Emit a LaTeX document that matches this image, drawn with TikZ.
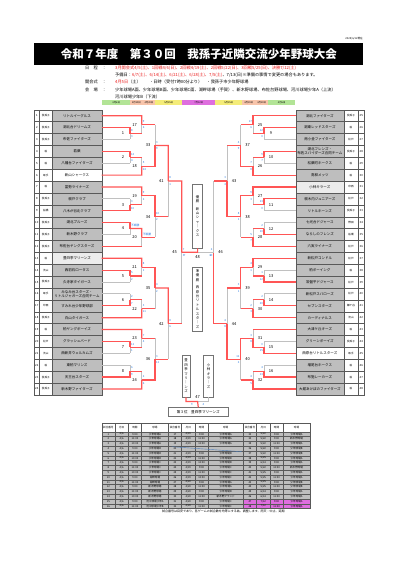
\documentclass[tikz,border=0pt]{standalone}
\usepackage{fontspec}
\setmainfont{Noto Sans CJK JP}
\usetikzlibrary{positioning,calc}
\definecolor{winred}{RGB}{255,85,85}
\definecolor{outgray}{RGB}{192,192,192}
\definecolor{cellgray}{RGB}{190,190,190}
\definecolor{palecell}{RGB}{236,236,236}
\definecolor{scoreblue}{RGB}{45,125,225}
\definecolor{noticered}{RGB}{235,25,25}
\definecolor{daygreen}{RGB}{178,228,150}
\definecolor{daypeach}{RGB}{248,196,170}
\definecolor{dayyellow}{RGB}{244,236,120}
\definecolor{daypink}{RGB}{222,110,222}

\newcommand\fsz[2]{\fontsize{#1}{#2}\selectfont}
\newcommand\pick[3]{\if w#1\draw[wline] (#2) -- (#3);\else\draw[bline] (#2) -- (#3);\fi}
% one game: number, x of its upright, upper and lower entry, winner (u/d),
% upper and lower score, side (1 left, -1 right), round (r first, n later)
\newcommand\bout[9]{%
  \coordinate (v#1) at (#2,0);
  \coordinate (w#1) at ($(#3 -| v#1)!.5!(#4 -| v#1)$);
  \if r#9\def\fx{g}\else\def\fx{w}\fi
  \draw[bline] (#3 -| v#1) -- (#4 -| v#1);
  \ifx u#5
    \pick{\fx}{#4}{#4 -| v#1}
    \draw[wline] (#3) -- (#3 -| v#1) -- (w#1);
  \else
    \pick{\fx}{#3}{#3 -| v#1}
    \draw[wline] (#4) -- (#4 -| v#1) -- (w#1);
  \fi
  \ifnum#8>0 \def\sa{west}\else\def\sa{east}\fi
  \node[gno] (g#1) at ([xshift=-7pt*#8]w#1) {#1};
  \node[sc,anchor=\sa] (su#1) at ([xshift=.6pt*#8,yshift=3.2pt]w#1) {#6};
  \node[sc,anchor=\sa] (sl#1) at ([xshift=.6pt*#8,yshift=-3.2pt]w#1) {#7};
}
% one block of the timetable: left edge, width of the ground column, first pink row, rows
\newcommand\sched[4]{%
  \foreach \hd/\cx/\cw in {試合番号/0/13.3,月日/13.3/13.3,時間/26.6/13.3,球場/39.9/#2}
    \node[tcell,fill=white,minimum width=\cw pt,minimum height=8.4pt,anchor=north west] at (#1+\cx,423.3) {\hd};
  \foreach \no/\dd/\tm/\pl [count=\rw] in {#4}{
    \pgfmathsetmacro\ry{431.7+4.8*(\rw-1)}
    \ifnum\rw<#3 \def\rc{cellgray}\else\def\rc{daypink}\fi
    \node[tcell,fill=\rc,minimum width=13.3pt,anchor=north west] at (#1,\ry) {\no};
    \node[tcell,fill=\rc,minimum width=13.3pt,anchor=north west] at (#1+13.3,\ry) {\dd};
    \node[tcell,fill=\rc,minimum width=13.3pt,anchor=north west] at (#1+26.6,\ry) {\tm};
    \node[tcell,fill=\rc,minimum width=#2pt,anchor=north west] at (#1+39.9,\ry) {\pl};
  }
}

\tikzset{
  cell/.style={draw=black!65,line width=.35pt,inner sep=0pt,outer sep=0pt,minimum height=11.88pt},
  teamcell/.style={cell,fill=cellgray,font=\fsz{3.5}{4.3},align=center},
  areacell/.style={cell,fill=white,font=\fsz{2.6}{3}},
  numcell/.style={cell,fill=white,font=\fsz{2.8}{3}},
  bline/.style={outgray,line width=.9pt},
  wline/.style={winred,line width=1.2pt},
  gno/.style={font=\fsz{4}{4},inner sep=0pt},
  sc/.style={font=\fsz{2.8}{3},text=scoreblue,inner sep=.3pt},
  vbox/.style={draw=black!55,line width=.5pt,fill=white,inner sep=0pt,font=\fsz{3.4}{4.4},align=center},
  info/.style={anchor=west,inner sep=0pt,font=\fsz{4.2}{4.4}},
  tcell/.style={draw=black!65,line width=.3pt,inner sep=0pt,outer sep=0pt,minimum height=4.8pt,font=\fsz{2.6}{3}},
}

\begin{document}
\begin{tikzpicture}[x=1pt,y=-1pt]
\fill[white] (0,0) rectangle (401,568);
\useasboundingbox (0,0) rectangle (401,568);

% heading
\node[anchor=east,inner sep=0pt,font=\fsz{2.6}{3}] (stamp) at (363,38.5) {2025/6/12現在};
\node[fill=black,text=white,minimum width=329pt,minimum height=22.3pt,inner sep=0pt,
  font=\fsz{11.5}{12}\bfseries] (title) at (198.8,53.8) {令和７年度　第３０回　我孫子近隣交流少年野球大会};
\node[info] (l1) at (85,67.7) {日　程　：};
\node[info,text=noticered] (d1) at (115,67.7) {3月開会式4/5(土)、1回戦4/6(日)、2回戦4/19(土)、2回戦5/22(日)、3回戦5/25(日)、決勝7/12(土)};
\node[info] (d2) at (115,75) {予備日：\textcolor{noticered}{6/7(土)、6/14(土)、6/21(土)、6/28(土)、7/5(土)}、7/13(日)※準備の事情で変更の場合もあります。};
\node[info] (l3) at (85,82.3) {開会式　：};
\node[info] (d3) at (115,82.3) {\textcolor{noticered}{4月5日}（土）　　・日時（受付7時00分より）　・我孫子市少年野球場};
\node[info] (l4) at (85,89.5) {会　場　：};
\node[info] (d4) at (115,89.5) {少年球場A面、少年球場B面、少年球場C面、湖畔球場（手賀）、新木野球場、布佐台野球場、河川球場少年A（上流）};
\node[info] (d5) at (115,96.5) {河川球場少年B（下流）};
\foreach \x/\w/\c/\t in {102/28/daygreen/4月6日,130/12.5/daypeach/4月19日,142.5/12.5/daypeach/4月20日,
    155/27/dayyellow/5月25日,182/33/daypink/7月12日,215/27/dayyellow/5月25日,
    242/13/daypeach/4月19日,255/13/daypeach/4月20日,268/27/daygreen/4月6日}
  \node[fill=\c,minimum width=\w pt,minimum height=4.6pt,anchor=north west,inner sep=0pt,font=\fsz{2.4}{2.5}] at (\x,100) {\t};

% left teams
\foreach \nm/\rg [count=\i] in {リトルイーグルス/我孫子,湖北台ドリームズ/我孫子,布佐ファイターズ/我孫子,若葉/柏,
    八幡台ファイターズ/柏,新山シャークス/取手,富勢ライナーズ/柏,根戸クラブ/我孫子,八木が谷北クラブ/船橋,
    湖北ブルーズ/我孫子,新木野クラブ/我孫子,布佐台ヤングスターズ/我孫子,豊四季マリーンズ/柏,
    西初石ロータス/流山,久寺家タイガース/我孫子,{みなみ台スターズ・\\リトルジャガーズ合同チーム}/取手,
    すみれ台少年野球部/印西,白山タイガース/我孫子,柏ヤングボーイズ/柏,グラッシュバード/松戸,
    西新井ウェルカムズ/流山,東柏マリンズ/柏,天王台スターズ/我孫子,新木野ファイターズ/我孫子}{
  \pgfmathsetmacro\yy{115.7+(\i-1)*11.88}
  \def\cf{cellgray}
  \ifnum\i=6 \def\cf{white}\fi
  \ifnum\i=13 \def\cf{palecell}\fi
  \node[numcell,minimum width=5pt] (n\i) at (36.8,\yy) {\i};
  \node[areacell,minimum width=13pt] (a\i) at (45.8,\yy) {\rg};
  \node[teamcell,fill=\cf,minimum width=49.4pt] (t\i) at (77,\yy) {\nm};
}
% right teams
\foreach \nm/\rg [count=\i from 25] in {湖北ファイターズ/我孫子,湖東レッドスターズ/柏,南小金ファイターズ/松戸,
    {湖北フレンズ・\\布佐スパイダーズ合同チーム}/我孫子,松葉町ホークス/柏,高柳メッツ/柏,小林キラーズ/印西,
    根木内ジュニアーズ/松戸,リトルホーンズ/我孫子,七光台ドジャース/野田,ならしのフレンズ/船橋,六実ライナーズ/松戸,
    新松戸コンドル/松戸,柏ボーイング/柏,常盤平ドジャース/松戸,新松戸スパローズ/松戸,セブンスターズ/鎌ケ谷,
    カーディナルス/流山,大津ケ丘キーズ/柏,グリーンボーイズ/我孫子,西原台リトルスターズ/取手,
    増尾台ホークス/柏,布施レーカーズ/柏,大堀あけぼのファイターズ/柏}{
  \pgfmathsetmacro\yy{115.7+(\i-25)*11.88}
  \def\cf{cellgray}
  \ifnum\i=45 \def\cf{white}\fi
  \ifnum\i=31 \def\cf{palecell}\fi
  \node[teamcell,fill=\cf,minimum width=48.3pt] (t\i) at (319.85,\yy) {\nm};
  \node[areacell,minimum width=14pt] (a\i) at (351,\yy) {\rg};
  \node[numcell,minimum width=6.5pt] (n\i) at (361.25,\yy) {\i};
}

% left half of the draw
\bout{1}{130}{t2.east}{t3.east}{u}{8}{3}{1}{r}
\bout{2}{130}{t4.east}{t5.east}{u}{12}{4}{1}{r}
\bout{3}{130}{t8.east}{t9.east}{d}{3}{10}{1}{r}
\bout{4}{130}{t10.east}{t11.east}{u}{不戦勝}{}{1}{r}
\bout{5}{130}{t14.east}{t15.east}{u}{5}{2}{1}{r}
\bout{6}{130}{t16.east}{t17.east}{d}{2}{7}{1}{r}
\bout{7}{130}{t20.east}{t21.east}{u}{11}{1}{1}{r}
\bout{8}{130}{t22.east}{t23.east}{d}{6}{9}{1}{r}
\bout{17}{141.7}{t1.east}{w1}{u}{9}{6}{1}{n}
\bout{18}{141.7}{w2}{t6.east}{d}{5}{14}{1}{n}
\bout{19}{141.7}{t7.east}{w3}{u}{9}{2}{1}{n}
\bout{20}{141.7}{w4}{t12.east}{u}{不戦勝}{}{1}{n}
\bout{21}{141.7}{t13.east}{w5}{u}{8}{1}{1}{n}
\bout{22}{141.7}{w6}{t18.east}{d}{3}{11}{1}{n}
\bout{23}{141.7}{t19.east}{w7}{u}{7}{4}{1}{n}
\bout{24}{141.7}{w8}{t24.east}{d}{2}{6}{1}{n}
\bout{33}{155}{w17}{w18}{d}{3}{9}{1}{n}
\bout{34}{155}{w19}{w20}{u}{10}{2}{1}{n}
\bout{35}{155}{w21}{w22}{u}{4}{2}{1}{n}
\bout{36}{155}{w23}{w24}{d}{3}{11}{1}{n}
\bout{41}{168.3}{w33}{w34}{u}{8}{1}{1}{n}
\bout{42}{168.3}{w35}{w36}{u}{8}{6}{1}{n}
\bout{45}{181.7}{w41}{w42}{u}{7}{3}{1}{n}
% right half of the draw
\bout{9}{264}{t26.west}{t27.west}{u}{12}{0}{-1}{r}
\bout{10}{264}{t28.west}{t29.west}{u}{9}{7}{-1}{r}
\bout{11}{264}{t32.west}{t33.west}{u}{13}{0}{-1}{r}
\bout{12}{264}{t34.west}{t35.west}{d}{2}{10}{-1}{r}
\bout{13}{264}{t38.west}{t39.west}{d}{1}{12}{-1}{r}
\bout{14}{264}{t40.west}{t41.west}{d}{2}{20}{-1}{r}
\bout{15}{264}{t44.west}{t45.west}{d}{0}{15}{-1}{r}
\bout{16}{264}{t46.west}{t47.west}{d}{4}{13}{-1}{r}
\bout{25}{253}{t25.west}{w9}{u}{17}{6}{-1}{n}
\bout{26}{253}{w10}{t30.west}{d}{7}{8}{-1}{n}
\bout{27}{253}{t31.west}{w11}{u}{9}{3}{-1}{n}
\bout{28}{253}{w12}{t36.west}{d}{5}{7}{-1}{n}
\bout{29}{253}{t37.west}{w13}{u}{4}{1}{-1}{n}
\bout{30}{253}{w14}{t42.west}{d}{2}{3}{-1}{n}
\bout{31}{253}{t43.west}{w15}{d}{3}{8}{-1}{n}
\bout{32}{253}{w16}{t48.west}{d}{4}{5}{-1}{n}
\bout{37}{240.5}{w25}{w26}{d}{4}{9}{-1}{n}
\bout{38}{240.5}{w27}{w28}{u}{8}{1}{-1}{n}
\bout{39}{240.5}{w29}{w30}{u}{3}{1}{-1}{n}
\bout{40}{240.5}{w31}{w32}{u}{11}{2}{-1}{n}
\bout{43}{227}{w37}{w38}{d}{3}{4}{-1}{n}
\bout{44}{227}{w39}{w40}{d}{4}{8}{-1}{n}
\bout{46}{213.5}{w43}{w44}{d}{2}{10}{-1}{n}

% final and the game for third place
\node[vbox,minimum width=10pt,minimum height=64pt] (champ) at (197.6,216) {優\\勝\\[3pt]新\\山\\シ\\ャ\\｜\\ク\\ス};
\node[vbox,minimum width=10pt,minimum height=64pt] (second) at (197.6,299) {準\\優\\勝\\[3pt]西\\原\\台\\リ\\ト\\ル\\ス\\タ\\｜\\ズ};
\coordinate (fin) at ($(w45)!.5!(w46)$);
\draw[bline] (w45) -- (w46);
\draw[wline] (w45) -- (fin) -- (champ.south);
\node[gno] (g48) at ([yshift=-5pt]fin) {48};
\node[sc] (sf1) at ([xshift=3pt,yshift=-2.8pt]w45) {7};
\node[sc] (sf2) at ([xshift=-3pt,yshift=-2.8pt]w46) {1};

\node[vbox,minimum width=8.3pt,minimum height=42pt] (third1) at (186,376) {豊\\四\\季\\マ\\リ\\｜\\ン\\ズ};
\node[vbox,minimum width=10pt,minimum height=42pt] (third2) at (208.5,376) {小\\林\\キ\\ラ\\｜\\ズ};
\coordinate (tp) at (197.6,401.5);
\node[vbox,minimum width=60pt,minimum height=9pt,font=\fsz{3.6}{4}] (bronze) at (198.3,412.2) {第３位　豊四季マリーンズ};
\draw[bline] (third2.south) |- (tp);
\draw[wline] (third1.south) |- (tp) -- (bronze.north);
\node[gno] (g47) at (197.6,397.5) {47};
\node[sc] (st1) at (192,404.3) {9};
\node[sc] (st2) at (203.5,404.3) {4};

% timetable
\sched{101.7}{26.7}{17}{1/{4/6}/9:00/少年球場A,2/{4/6}/11:00/少年球場A,3/{4/6}/13:00/少年球場A,
  4/{4/6}/9:00/少年球場B,5/{4/6}/11:00/少年球場B,6/{4/6}/13:00/少年球場B,7/{4/6}/9:00/少年球場C,
  8/{4/6}/11:00/少年球場C,9/{4/6}/13:00/少年球場C,10/{4/6}/9:00/湖畔球場,11/{4/6}/11:00/湖畔球場,
  12/{4/6}/9:00/新木野球場,13/{4/6}/11:00/新木野球場,14/{4/6}/13:00/新木野球場,
  15/{4/6}/9:00/河川球場少年A,16/{4/6}/11:00/河川球場少年B}
\sched{168.3}{35}{17}{17/{4/19}/9:00/少年球場A,18/{4/19}/11:00/少年球場A,19/{4/19}/13:00/少年球場A,
  20/{}/{}/{},21/{4/19}/9:00/少年球場B,22/{4/19}/11:00/少年球場B,23/{4/19}/13:00/少年球場B,
  24/{4/19}/9:00/少年球場C,25/{4/19}/11:00/少年球場C,26/{4/19}/13:00/少年球場C,27/{4/20}/9:00/少年球場A,
  28/{4/20}/11:00/少年球場A,29/{4/20}/9:00/少年球場B,30/{4/20}/11:00/新木野グランド,
  31/{4/20}/9:00/少年球場C,32/{4/20}/11:00/少年球場C}
\sched{243.3}{26.7}{15}{33/{5/22}/9:00/少年球場A,34/{5/22}/9:00/新木野球場,35/{5/22}/11:00/少年球場A,
  36/{5/22}/9:00/少年球場B,37/{5/22}/11:00/少年球場B,38/{5/25}/9:00/少年球場A,39/{6/14}/9:00/少年球場A,
  40/{5/22}/13:00/新木野球場,41/{5/25}/9:00/少年球場A,42/{5/25}/11:00/少年球場A,43/{5/25}/9:00/少年球場B,
  44/{5/25}/11:00/少年球場B,45/{6/14}/9:00/少年球場A,46/{6/14}/11:00/少年球場A,
  47/{7/12}/9:00/少年球場A,48/{7/12}/11:00/少年球場A}
\draw[scoreblue!60!gray,line width=.4pt] (171.7,446.7) -- (241.7,451.7);
\node[inner sep=0pt,font=\fsz{3}{3.2}] (note) at (223.3,511.7) {試合番号は目安であり、各ゲームの試合数を均等にする為、調整します。雨天：中止、延期};
\end{tikzpicture}
\end{document}
